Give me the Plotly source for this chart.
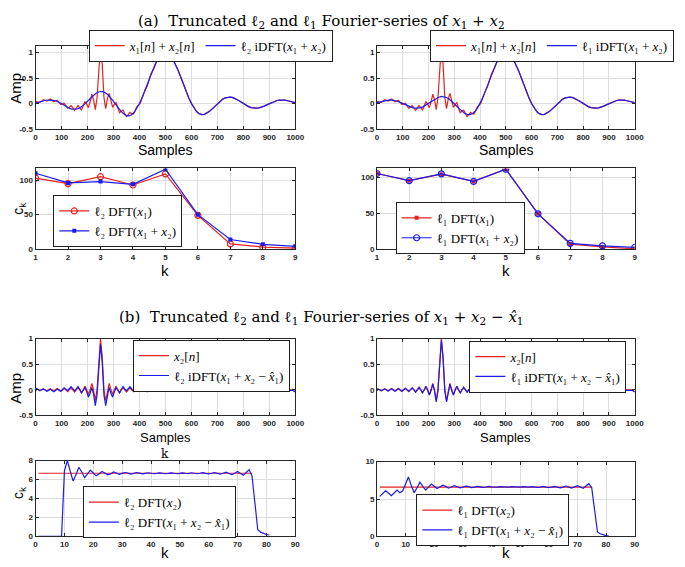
import plotly.graph_objects as go

# the page puts the plot 8 px in from the top-left corner, so the figure is
# made 8 px smaller and every reference pixel is shifted by that much
OFF = 8
W, H = 685 - OFF, 567 - OFF

# ---------------- data ----------------
# time axis, coarse grid and the fast-ripple grid round n = 250
samples = list(range(0, 1001, 10))
ripple_n = [250 + 20 * j / 3 for j in range(-37, 38)]
tail_n = list(range(510, 1001, 10))
quiet_n = [520, 600, 700, 800, 900, 960, 990, 1000]

# (a) x1[n] + x2[n]
x1x2_n = [0.03,
          0.040, 0.030, 0.022, 0.048, 0.074, 0.062, 0.047, 0.071, 0.092, 0.066,
          0.036, 0.050, 0.063, 0.024, -0.020, -0.008, 0.005, -0.041, -0.090, -0.070,
          -0.042, -0.086, -0.133, -0.090, -0.036, -0.078, -0.123, -0.050, 0.039, -0.011,
          -0.080, 0.034, 0.183, 0.076, -0.117, 0.109, 0.757, 1.127, 0.763, 0.121,
          -0.100, 0.094, 0.200, 0.047, -0.075, -0.017, 0.019, -0.087, -0.178, -0.152,
          -0.128, -0.197, -0.254, -0.215, -0.173, -0.198, -0.204, -0.134, -0.059, -0.030,
          0.008, 0.109, 0.218, 0.278, 0.344, 0.460, 0.571, 0.637, 0.696, 0.790,
          0.877, 0.910, 0.934, 0.984, 1.005,
          0.984, 0.936, 0.858, 0.757, 0.637, 0.505, 0.368, 0.234, 0.109, 0.0,
          -0.089, -0.156, -0.198, -0.216, -0.212, -0.189, -0.152, -0.104, -0.052, 0.0,
          0.047, 0.085, 0.112, 0.126, 0.127, 0.116, 0.095, 0.067, 0.034, 0.0,
          -0.032, -0.059, -0.078, -0.089, -0.091, -0.084, -0.070, -0.049, -0.025, 0.0,
          0.024, 0.045, 0.060, 0.069, 0.071, 0.066, 0.055, 0.045, 0.03, 0.02]

# (a) l2 iDFT(x1 + x2)
l2_idft_x1x2 = [0.011, 0.024, 0.043, 0.057, 0.065, 0.068, 0.068, 0.062, 0.05, 0.031,
                0.0, -0.033, -0.064, -0.091, -0.108, -0.114, -0.106, -0.085, -0.051, -0.006,
                0.045, 0.100, 0.150, 0.192, 0.223, 0.237, 0.233, 0.209, 0.168, 0.113,
                0.045, -0.026, -0.096, -0.159, -0.206, -0.235, -0.240, -0.219, -0.171, -0.097,
                0.0, 0.116, 0.245, 0.382, 0.519, 0.648, 0.764, 0.86, 0.934, 0.978,
                1.0, 0.984, 0.936, 0.858, 0.757, 0.637, 0.505, 0.368, 0.234, 0.109,
                0.0, -0.089, -0.156, -0.198, -0.216, -0.212, -0.189, -0.152, -0.104, -0.052,
                0.0, 0.047, 0.085, 0.112, 0.126, 0.127, 0.116, 0.095, 0.067, 0.034,
                0.0, -0.032, -0.059, -0.078, -0.089, -0.091, -0.084, -0.070, -0.049, -0.025,
                0.0, 0.024, 0.045, 0.060, 0.069, 0.071, 0.066, 0.055, 0.045, 0.03, 0.02]

# (a) l1 iDFT(x1 + x2)
l1_idft_x1x2 = [0.02, 0.03, 0.045, 0.055, 0.066, 0.071, 0.069, 0.060, 0.045, 0.024,
                0.0, -0.025, -0.049, -0.070, -0.084, -0.091, -0.089, -0.078, -0.059, -0.032,
                0.0, 0.034, 0.067, 0.10, 0.125, 0.14, 0.137, 0.12, 0.088, 0.047,
                0.0, -0.052, -0.104, -0.152, -0.189, -0.212, -0.216, -0.198, -0.156, -0.089,
                0.0, 0.109, 0.234, 0.368, 0.505, 0.637, 0.757, 0.858, 0.936, 0.984,
                1.0, 0.984, 0.936, 0.858, 0.757, 0.637, 0.505, 0.368, 0.234, 0.109,
                0.0, -0.089, -0.156, -0.198, -0.216, -0.212, -0.189, -0.152, -0.104, -0.052,
                0.0, 0.047, 0.085, 0.112, 0.126, 0.127, 0.116, 0.095, 0.067, 0.034,
                0.0, -0.032, -0.059, -0.078, -0.089, -0.091, -0.084, -0.070, -0.049, -0.025,
                0.0, 0.024, 0.045, 0.060, 0.069, 0.071, 0.066, 0.055, 0.045, 0.03, 0.02]

# (a) Fourier coefficients, k = 1..9
k_coef = [1, 2, 3, 4, 5, 6, 7, 8, 9]
l2_dft_x1 = [103, 95, 105, 93, 109, 49, 7.5, 3, 1.5]
l2_dft_x1x2 = [110, 96, 98, 94, 116, 50, 14, 7, 4]
l1_dft_x1 = [105, 95, 104, 94, 111, 49, 7, 3, 0.5]
l1_dft_x1x2 = [105, 95, 104.5, 94, 111, 49, 8, 4.5, 2.3]

# (b) x2[n]
x2_n = [-0.01,
        0.017, 0, -0.018, 0, 0.019, 0, -0.021, 0, 0.022, 0,
        -0.024, 0, 0.025, 0, -0.028, 0, 0.030, 0, -0.034, 0,
        0.037, 0, -0.042, 0, 0.049, 0, -0.058, 0, 0.071, 0,
        -0.091, 0, 0.127, 0, -0.212, 0, 0.637, 1.0, 0.637, 0,
        -0.212, 0, 0.127, 0, -0.091, 0, 0.071, 0, -0.058, 0,
        0.049, 0, -0.042, 0, 0.037, 0, -0.034, 0, 0.030, 0,
        -0.028, 0, 0.025, 0, -0.024, 0, 0.022, 0, -0.021, 0,
        0.019, 0, -0.018, 0, 0.017,
        0.0, 0.0, 0.0, 0.0, 0.0, 0.01, 0.0, -0.04]

# (b) l2 iDFT(x1 + x2 - x1hat)
l2_idft_res = [-0.03,
               0.026, 0.006, -0.014, 0.001, 0.017, -0.006, -0.029, -0.011, 0.009, -0.014,
               -0.038, -0.012, 0.015, -0.007, -0.030, 0.002, 0.038, 0.013, -0.017, 0.021,
               0.060, 0.024, -0.019, 0.019, 0.063, 0.007, -0.060, -0.013, 0.045, -0.040,
               -0.144, -0.066, 0.049, -0.089, -0.309, -0.104, 0.528, 0.890, 0.528, -0.104,
               -0.309, -0.089, 0.049, -0.066, -0.144, -0.040, 0.045, -0.013, -0.060, 0.007,
               0.063, 0.019, -0.019, 0.024, 0.060, 0.021, -0.017, 0.013, 0.038, 0.002,
               -0.030, -0.007, 0.015, -0.012, -0.038, -0.014, 0.009, -0.011, -0.029, -0.006,
               0.017, 0.001, -0.014, 0.006, 0.026,
               0.0, -0.005, 0.005, 0.0, 0.0, 0.0, -0.01, -0.04]

# (b) l1 iDFT(x1 + x2 - x1hat)
l1_idft_res = [-0.02,
               0.016, 0.0, -0.018, 0.0, 0.018, -0.002, -0.022, -0.002, 0.02, -0.003,
               -0.026, -0.002, 0.024, -0.002, -0.03, 0.0, 0.03, 0.003, -0.032, 0.005,
               0.04, 0.005, -0.045, 0.0, 0.048, 0.0, -0.06, -0.005, 0.065, -0.01,
               -0.10, -0.015, 0.11, -0.02, -0.235, -0.02, 0.61, 0.97, 0.61, -0.02,
               -0.235, -0.02, 0.11, -0.015, -0.10, -0.01, 0.065, -0.005, -0.06, 0.0,
               0.048, 0.0, -0.045, 0.005, 0.04, 0.005, -0.032, 0.003, 0.03, 0.0,
               -0.03, -0.002, 0.024, -0.002, -0.026, -0.003, 0.02, -0.002, -0.022, -0.002,
               0.018, 0.0, -0.018, 0.0, 0.016,
               0.0, 0.0, 0.0, 0.0, 0.0, 0.0, -0.01, -0.04]

# (b) Fourier coefficients, k = 1..81
k_fine = list(range(1, 82))
k_band = [1, 75]
l2_dft_x2 = [6.67, 6.67]
l1_dft_x2 = [6.6, 6.6]
l2_dft_res = [0, 0, 0, 0, 0, 0, 0, 0, 0, 6.9,
              8.0, 6.9, 5.85, 6.5, 7.3, 6.8, 6.2, 6.6, 7.0, 6.7,
              6.4, 6.6, 6.85, 6.7, 6.5, 6.6, 6.8, 6.7, 6.55, 6.65,
              6.75, 6.7, 6.58, 6.65, 6.75, 6.68, 6.6, 6.66, 6.72, 6.67,
              6.62, 6.66, 6.71, 6.67, 6.62, 6.66, 6.71, 6.67, 6.62, 6.66,
              6.71, 6.67, 6.64, 6.72, 6.67, 6.62, 6.67, 6.73, 6.66, 6.6,
              6.67, 6.75, 6.66, 6.57, 6.67, 6.78, 6.65, 6.52, 6.68, 6.85,
              6.65, 6.45, 6.75, 7.05, 6.4, 3.5, 0.7, 0.45, 0.3, 0.2,
              0.15]
l1_dft_res = [5.35, 5.8, 6.1, 5.8, 5.45, 5.8, 6.2, 5.85, 6.1, 7.0,
              7.95, 6.8, 5.85, 6.5, 7.25, 6.7, 6.2, 6.6, 7.0, 6.7,
              6.4, 6.6, 6.85, 6.7, 6.45, 6.6, 6.8, 6.65, 6.5, 6.6,
              6.72, 6.65, 6.52, 6.6, 6.7, 6.63, 6.55, 6.6, 6.68, 6.62,
              6.56, 6.6, 6.67, 6.62, 6.56, 6.6, 6.67, 6.62, 6.56, 6.6,
              6.67, 6.62, 6.58, 6.66, 6.6, 6.55, 6.6, 6.68, 6.6, 6.54,
              6.6, 6.7, 6.6, 6.5, 6.6, 6.74, 6.6, 6.47, 6.62, 6.78,
              6.6, 6.42, 6.75, 7.05, 6.5, 3.4, 0.6, 0.35, 0.2, 0.1,
              0.05]

# ---------------- styling ----------------
RED = '#e42222'
BLUE = '#1c1ce8'
SANS = 'Liberation Sans, Arial, sans-serif'
SERIF = 'Liberation Serif, DejaVu Serif, serif'
TSERIF = 'DejaVu Serif, serif'
TXT = '#262626'

# legend labels (unicode subscripts keep the legend rows compact)
X1 = '<i>x</i>₁'
X2 = '<i>x</i>₂'
X1H = '<i>x̂</i>₁'
L2 = 'ℓ₂'
L1 = 'ℓ₁'


def px_x(px):
    return (px - OFF) / W


def px_y(py):
    return 1 - (py - OFF) / H


# pixel boxes of the eight axes in the reference: (left, right, top, bottom)
boxes = [(34, 298, 43, 127), (381, 643, 43, 127),
         (34, 298, 167, 249), (381, 643, 167, 249),
         (34, 298, 340, 418), (381, 643, 340, 418),
         (34, 298, 464, 541), (381, 643, 465, 541)]

fig = go.Figure()


def line(x, y, name, color, panel, legend, **kw):
    fig.add_trace(go.Scatter(x=x, y=y, name=name, mode=kw.pop('mode', 'lines'),
                             line=dict(color=color, width=1.2),
                             xaxis='x' if panel == 1 else f'x{panel}',
                             yaxis='y' if panel == 1 else f'y{panel}',
                             legend=legend, **kw))


# (a) time domain
line([0] + ripple_n + tail_n, x1x2_n, f'{X1}[<i>n</i>] + {X2}[<i>n</i>]', RED, 1, 'legend')
line(samples, l2_idft_x1x2, f'{L2} iDFT({X1} + {X2})', BLUE, 1, 'legend')
line([0] + ripple_n + tail_n, x1x2_n, f'{X1}[<i>n</i>] + {X2}[<i>n</i>]', RED, 2, 'legend2')
line(samples, l1_idft_x1x2, f'{L1} iDFT({X1} + {X2})', BLUE, 2, 'legend2')

# (a) coefficients
line(k_coef, l2_dft_x1, f'{L2} DFT({X1})', RED, 3, 'legend3', mode='lines+markers',
     marker=dict(symbol='circle-open', size=6, color=RED, line=dict(width=1.2)))
line(k_coef, l2_dft_x1x2, f'{L2} DFT({X1} + {X2})', BLUE, 3, 'legend3', mode='lines+markers',
     marker=dict(symbol='square', size=4, color=BLUE))
line(k_coef, l1_dft_x1, f'{L1} DFT({X1})', RED, 4, 'legend4', mode='lines+markers',
     marker=dict(symbol='square', size=4, color=RED))
line(k_coef, l1_dft_x1x2, f'{L1} DFT({X1} + {X2})', BLUE, 4, 'legend4', mode='lines+markers',
     marker=dict(symbol='circle-open', size=6, color=BLUE, line=dict(width=1.2)))

# (b) time domain
res_n = [0] + ripple_n + quiet_n
line(res_n, x2_n, f'{X2}[<i>n</i>]', RED, 5, 'legend5')
line(res_n, l2_idft_res, f'{L2} iDFT({X1} + {X2} − {X1H})', BLUE, 5, 'legend5')
line(res_n, x2_n, f'{X2}[<i>n</i>]', RED, 6, 'legend6')
line(res_n, l1_idft_res, f'{L1} iDFT({X1} + {X2} − {X1H})', BLUE, 6, 'legend6')

# (b) coefficients
line(k_band, l2_dft_x2, f'{L2} DFT({X2})', RED, 7, 'legend7')
line(k_fine, l2_dft_res, f'{L2} DFT({X1} + {X2} − {X1H})', BLUE, 7, 'legend7')
line(k_band, l1_dft_x2, f'{L1} DFT({X2})', RED, 8, 'legend8')
line(k_fine, l1_dft_res, f'{L1} DFT({X1} + {X2} − {X1H})', BLUE, 8, 'legend8')

# ---------------- axes ----------------
amp_ticks = dict(tickvals=[-0.5, 0, 0.5, 1], ticktext=['-0.5', '0', '0.5', '1'])
axis_specs = [
    ([0, 1000], dict(dtick=100), [-0.5, 1.12], amp_ticks),
    ([0, 1000], dict(dtick=100), [-0.5, 1.12], amp_ticks),
    ([1, 9], dict(dtick=1), [0, 117], dict(tickvals=[0, 50, 100])),
    ([1, 9], dict(dtick=1), [0, 112], dict(tickvals=[0, 50, 100])),
    ([0, 1000], dict(dtick=100), [-0.5, 1], amp_ticks),
    ([0, 1000], dict(dtick=100), [-0.5, 1], amp_ticks),
    ([0, 90], dict(dtick=10), [0, 8], dict(tickvals=[0, 2, 4, 6, 8])),
    ([0, 90], dict(dtick=10), [0, 10], dict(tickvals=[0, 5, 10])),
]

common = dict(showgrid=True, gridcolor='#dedede', gridwidth=1, zeroline=False,
              showline=True, linecolor=TXT, linewidth=1, mirror='allticks',
              ticks='inside', ticklen=3, tickcolor=TXT,
              tickfont=dict(family=SANS, size=8, color=TXT, weight='bold'))

layout_axes = {}
for i, ((l, r, t, b), (xr, xt, yr, yt)) in enumerate(zip(boxes, axis_specs), start=1):
    sx = '' if i == 1 else str(i)
    layout_axes[f'xaxis{sx}'] = dict(domain=[px_x(l), px_x(r)], range=xr,
                                     anchor=f'y{sx}', **xt, **common)
    layout_axes[f'yaxis{sx}'] = dict(domain=[px_y(b), px_y(t)], range=yr,
                                     anchor=f'x{sx}', **yt, **common)

# ---------------- legends ----------------
leg = dict(bgcolor='white', bordercolor='#202020', borderwidth=1,
           font=dict(family=SERIF, size=13, color='black'),
           itemwidth=30, tracegroupgap=0)
legends = {
    'legend': dict(x=px_x(336), y=px_y(26), xanchor='right', yanchor='top',
                   orientation='h', **leg),
    'legend2': dict(x=px_x(683), y=px_y(26), xanchor='right', yanchor='top',
                    orientation='h', **leg),
    'legend3': dict(x=px_x(52), y=px_y(194), xanchor='left', yanchor='top', **leg),
    'legend4': dict(x=px_x(400), y=px_y(201), xanchor='left', yanchor='top', **leg),
    'legend5': dict(x=px_x(133), y=px_y(341), xanchor='left', yanchor='top', **leg),
    'legend6': dict(x=px_x(475), y=px_y(342), xanchor='left', yanchor='top', **leg),
    'legend7': dict(x=px_x(82), y=px_y(490), xanchor='left', yanchor='top', **leg),
    'legend8': dict(x=px_x(421), y=px_y(498), xanchor='left', yanchor='top', **leg),
}

# ---------------- titles and axis labels ----------------
annotations = []


def label(text, px, py, size=13, family=SANS, angle=0):
    annotations.append(dict(text=text, x=px_x(px), y=px_y(py), xref='paper', yref='paper',
                            xanchor='center', yanchor='middle', showarrow=False,
                            textangle=angle, font=dict(family=family, size=size, color='black')))


TX1 = '<i>x</i><sub>1</sub>'
TX2 = '<i>x</i><sub>2</sub>'
label(f'(a)  Truncated ℓ<sub>2</sub> and ℓ<sub>1</sub> Fourier-series of {TX1} + {TX2}',
      325, 18, 15, TSERIF)
label(f'(b)  Truncated ℓ<sub>2</sub> and ℓ<sub>1</sub> Fourier-series of {TX1} + {TX2} − '
      '<i>x̂</i><sub>1</sub>', 325, 318, 15, TSERIF)
for cx in (166, 512):
    label('Samples', cx, 148, 14)
    label('k', cx, 271, 15)
    label('Samples', cx, 440, 13)
    label('k', cx, 557, 15)
label('k', 166, 457, 12, TSERIF)
label('Amp', 14, 85, 15, angle=-90)
label('c<sub>k</sub>', 17, 208, 14, angle=-90)
label('Amp', 14, 390, 15, angle=-90)
label('c<sub>k</sub>', 17, 497, 14, angle=-90)

fig.update_layout(width=W, height=H, margin=dict(l=0, r=0, t=0, b=0),
                  paper_bgcolor='white', plot_bgcolor='white',
                  showlegend=True, annotations=annotations,
                  **layout_axes, **legends)

fig.write_html('out.html')
